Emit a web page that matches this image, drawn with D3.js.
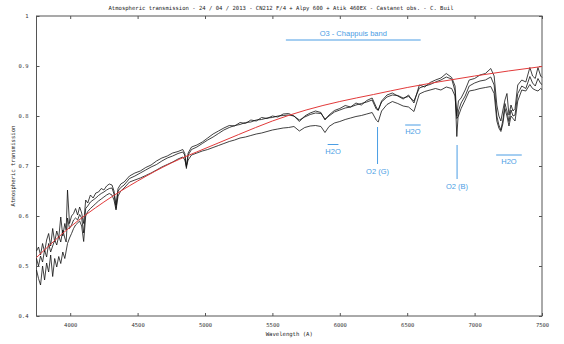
<!DOCTYPE html>
<html>
<head>
<meta charset="utf-8">
<script src="https://cdn.jsdelivr.net/npm/d3@7"></script>
<style>
  html, body { margin: 0; padding: 0; background: #fff; }
  svg { display: block; }
</style>
</head>
<body>
<svg id="chart" width="564" height="344"></svg>
<script>
// ---------- data ----------
const wavelengths = [
  3750,3765,3780,3795,3810,3825,3840,3855,3870,3885,3900,3915,3930,3945,3960,3970,3980,3995,4010,4025,
  4040,4055,4070,4085,4100,4115,4130,4150,4170,4190,4210,4230,4250,4270,4290,4310,4325,4340,4355,4375,4400,
  4440,4480,4520,4560,4600,4640,4680,4720,4760,4800,4835,4850,4862,4875,4900,4940,4980,5020,5060,5100,
  5140,5180,5220,5260,5300,5340,5380,5420,5460,5500,5540,5580,
  5620,5660,5700,5740,5780,5820,5860,5890,5920,5960,6000,6040,6080,6120,6160,6200,6240,6270,6285,6310,
  6350,6390,6430,6470,6510,6550,6590,6630,6670,6710,6750,6790,6830,
  6855,6868,6880,6900,6930,6960,7000,7040,7080,7120,7145,7165,7180,7195,7210,7225,7240,7255,7270,7285,
  7300,7320,7350,7380,7410,7430,7450,7470,7490,7500
];
const seriesA = [
  0.530,0.538,0.522,0.545,0.528,0.552,0.565,0.540,0.575,0.548,0.570,0.556,0.598,0.560,0.585,0.572,0.652,0.585,0.600,0.605,
  0.615,0.602,0.618,0.606,0.585,0.632,0.626,0.642,0.636,0.646,0.648,0.655,0.652,0.660,0.664,0.662,0.650,0.622,0.655,0.664,0.668,
  0.680,0.686,0.690,0.697,0.702,0.710,0.716,0.720,0.726,0.729,0.733,0.725,0.698,0.726,0.738,0.742,0.748,0.756,0.764,0.770,
  0.776,0.781,0.780,0.787,0.785,0.792,0.790,0.797,0.795,0.800,0.798,0.804,
  0.805,0.800,0.789,0.800,0.806,0.810,0.807,0.792,0.802,0.811,0.815,0.821,0.818,0.826,0.822,0.831,0.836,0.818,0.811,0.830,
  0.842,0.846,0.840,0.834,0.842,0.826,0.862,0.858,0.867,0.872,0.876,0.885,0.877,
  0.860,0.800,0.830,0.836,0.852,0.872,0.875,0.882,0.885,0.895,0.880,0.822,0.800,0.790,0.812,0.832,0.845,0.802,0.822,0.810,
  0.815,0.862,0.872,0.868,0.897,0.880,0.875,0.897,0.880,0.877
];
const seriesB = [
  0.515,0.500,0.520,0.508,0.532,0.518,0.545,0.528,0.540,0.552,0.542,0.560,0.548,0.572,0.556,0.548,0.596,0.575,0.582,0.592,
  0.596,0.592,0.603,0.596,0.566,0.615,0.620,0.628,0.632,0.636,0.641,0.645,0.648,0.652,0.655,0.656,0.644,0.615,0.650,0.657,0.662,
  0.675,0.680,0.686,0.692,0.698,0.703,0.710,0.716,0.720,0.725,0.728,0.722,0.695,0.722,0.733,0.738,0.745,0.752,0.758,0.765,
  0.772,0.777,0.781,0.783,0.787,0.788,0.792,0.793,0.796,0.797,0.800,0.801,
  0.802,0.800,0.792,0.798,0.803,0.806,0.805,0.794,0.800,0.808,0.812,0.816,0.818,0.822,0.825,0.828,0.832,0.814,0.812,0.828,
  0.838,0.842,0.841,0.836,0.839,0.830,0.856,0.860,0.863,0.868,0.872,0.878,0.874,
  0.850,0.759,0.810,0.826,0.840,0.860,0.866,0.870,0.872,0.878,0.862,0.800,0.782,0.772,0.792,0.825,0.810,0.789,0.812,0.800,
  0.802,0.845,0.860,0.855,0.879,0.866,0.860,0.875,0.865,0.863
];
const seriesC = [
  0.492,0.475,0.462,0.500,0.472,0.506,0.488,0.522,0.479,0.515,0.498,0.519,0.505,0.528,0.515,0.530,0.545,0.556,0.565,0.575,
  0.582,0.586,0.590,0.580,0.549,0.600,0.609,0.615,0.620,0.625,0.630,0.634,0.638,0.642,0.645,0.642,0.632,0.612,0.640,0.650,0.656,
  0.668,0.672,0.676,0.681,0.686,0.692,0.698,0.703,0.708,0.714,0.718,0.712,0.700,0.712,0.722,0.726,0.730,0.733,0.737,0.741,
  0.745,0.749,0.752,0.756,0.758,0.761,0.764,0.766,0.769,0.772,0.774,0.776,
  0.777,0.779,0.770,0.777,0.780,0.781,0.779,0.767,0.779,0.786,0.789,0.793,0.796,0.799,0.801,0.804,0.807,0.792,0.788,0.810,
  0.823,0.829,0.825,0.820,0.818,0.809,0.844,0.849,0.852,0.855,0.852,0.858,0.855,
  0.840,0.795,0.800,0.815,0.832,0.850,0.852,0.855,0.857,0.859,0.845,0.790,0.776,0.769,0.785,0.815,0.800,0.780,0.800,0.795,
  0.790,0.830,0.852,0.850,0.863,0.855,0.852,0.850,0.855,0.853
];
// smooth model transmission (red)
const modelWavelengths = [3750,4000,4250,4500,4750,5000,5250,5500,5750,6000,6250,6500,6750,7000,7250,7500];
const modelValues      = [0.517,0.578,0.628,0.670,0.706,0.735,0.763,0.790,0.812,0.829,0.843,0.857,0.869,0.880,0.890,0.899];

const xTicks = [4000,4500,5000,5500,6000,6500,7000,7500];
const yTicks = [0.4,0.5,0.6,0.7,0.8,0.9,1];

const bandLabels = [
  {label:"O3 - Chappuis band", x0:5600, x1:6600, y:0.952},
  {label:"H2O", x0:5910, x1:5990, y:0.743},
  {label:"H2O", x0:6485, x1:6600, y:0.782},
  {label:"H2O", x0:7160, x1:7350, y:0.722}
];
const lineLabels = [
  {label:"O2 (G)", x:6280, y0:0.778, y1:0.704},
  {label:"O2 (B)", x:6870, y0:0.742, y1:0.674}
];

const titleText = "Atmospheric transmission - 24 / 04 / 2013 - CN212 F/4 + Alpy 600 + Atik 460EX - Castanet obs. - C. Buil";

// ---------- drawing ----------
const svg = d3.select("#chart");
const L = 36.5, R = 542, T = 16, B = 316;
const x = d3.scaleLinear().domain([3750, 7500]).range([L, R]);
const y = d3.scaleLinear().domain([0.4, 1]).range([B, T]);
const frameColor = "#555";
const annoColor = "#4a9de4";
const tickFont = "'DejaVu Sans Mono', monospace";

// axes
const fmtY = d => d === 1 ? "1" : d3.format(".1f")(d);
const gB = svg.append("g").attr("transform", `translate(0,${B})`)
  .call(d3.axisBottom(x).tickValues(xTicks).tickSizeInner(-3).tickSizeOuter(0).tickPadding(7).tickFormat(d3.format("d")));
const gT = svg.append("g").attr("transform", `translate(0,${T})`)
  .call(d3.axisTop(x).tickValues(xTicks).tickSizeInner(-3).tickSizeOuter(0).tickFormat(""));
const gL = svg.append("g").attr("transform", `translate(${L},0)`)
  .call(d3.axisLeft(y).tickValues(yTicks).tickSizeInner(-3).tickSizeOuter(0).tickPadding(8).tickFormat(fmtY));
const gR = svg.append("g").attr("transform", `translate(${R},0)`)
  .call(d3.axisRight(y).tickValues(yTicks).tickSizeInner(-3).tickSizeOuter(0).tickFormat(""));
[gB, gT, gL, gR].forEach(g => {
  g.select(".domain").remove();
  g.selectAll(".tick line").attr("stroke", frameColor);
  g.selectAll(".tick text").attr("font-family", tickFont).attr("font-size", 5.5).attr("fill", "#333");
});
svg.append("rect").attr("x", L).attr("y", T).attr("width", R - L).attr("height", B - T)
  .attr("fill", "none").attr("stroke", frameColor).attr("stroke-width", 1);

// spectra
const line = d3.line().x((d, i) => x(wavelengths[i])).y(d => y(d));
[seriesA, seriesB, seriesC].forEach(s => {
  svg.append("path").datum(s).attr("d", line)
    .attr("fill", "none").attr("stroke", "#111").attr("stroke-width", 0.8).attr("stroke-linejoin", "round");
});
// model
const mline = d3.line().x((d, i) => x(modelWavelengths[i])).y(d => y(d)).curve(d3.curveMonotoneX);
svg.append("path").datum(modelValues).attr("d", mline)
  .attr("fill", "none").attr("stroke", "#e23a3a").attr("stroke-width", 1);

// annotations
const anno = svg.append("g").attr("font-family", "'Liberation Sans', Arial, sans-serif").attr("fill", annoColor);
bandLabels.forEach((b, i) => {
  anno.append("line").attr("x1", x(b.x0)).attr("x2", x(b.x1)).attr("y1", y(b.y)).attr("y2", y(b.y))
    .attr("stroke", annoColor).attr("stroke-width", 1);
  const above = i === 0;
  anno.append("text").attr("x", (x(b.x0) + x(b.x1)) / 2)
    .attr("y", above ? y(b.y) - 4 : y(b.y) + 9)
    .attr("text-anchor", "middle").attr("font-size", 7.5).text(b.label);
});
lineLabels.forEach(l => {
  anno.append("line").attr("x1", x(l.x)).attr("x2", x(l.x)).attr("y1", y(l.y0)).attr("y2", y(l.y1))
    .attr("stroke", annoColor).attr("stroke-width", 1);
  anno.append("text").attr("x", x(l.x)).attr("y", y(l.y1) + 10)
    .attr("text-anchor", "middle").attr("font-size", 7.5).text(l.label);
});

// titles
svg.append("text").attr("x", 281).attr("y", 10).attr("text-anchor", "middle")
  .attr("font-family", tickFont).attr("font-size", 5.6).attr("fill", "#222")
  .attr("textLength", 345).attr("lengthAdjust", "spacingAndGlyphs").text(titleText);
svg.append("text").attr("x", (L + R) / 2).attr("y", 336).attr("text-anchor", "middle")
  .attr("font-family", tickFont).attr("font-size", 5.6).attr("fill", "#222").text("Wavelength (A)");
svg.append("text").attr("transform", `translate(15,${(T + B) / 2}) rotate(-90)`).attr("text-anchor", "middle")
  .attr("font-family", tickFont).attr("font-size", 5.6).attr("fill", "#222").text("Atmospheric transmission");
</script>
</body>
</html>
